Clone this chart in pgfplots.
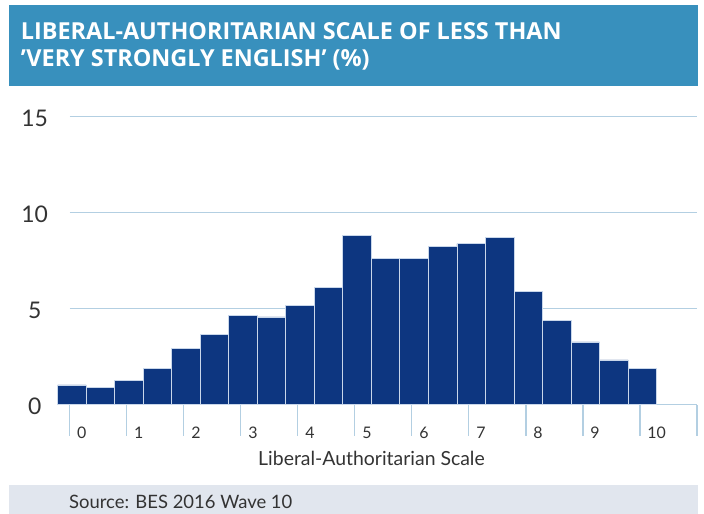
\documentclass[border=0pt]{standalone}
\usepackage{pgfplots}
\pgfplotsset{compat=1.18}
\usepackage{fontspec}
\setmainfont{Lato}
\newfontfamily\titlefont{Open Sans}
\definecolor{titleblue}{HTML}{3890BD}
\definecolor{barblue}{HTML}{0D3680}
\definecolor{gridblue}{HTML}{B3CFE2}
\definecolor{srcgray}{HTML}{E1E6EE}
\definecolor{txt}{HTML}{333333}
\definecolor{baredge}{HTML}{C9D7EA}

\begin{document}
\begin{tikzpicture}
\useasboundingbox (0bp,0bp) rectangle (704bp,514bp);
\fill[titleblue] (9bp,428bp) rectangle (698bp,509bp);
\node[anchor=base west, text=white, font=\titlefont\fontsize{23.5}{26}\selectfont\bfseries, inner sep=0] at (20.7bp,474bp) {LIBERAL-AUTHORITARIAN SCALE OF LESS THAN};
\node[anchor=base west, text=white, font=\titlefont\fontsize{23.5}{26}\selectfont\bfseries, inner sep=0] at (20.7bp,447.3bp) {’VERY STRONGLY ENGLISH’ (\%)};
\fill[srcgray] (9bp,0bp) rectangle (698bp,29bp);
\node[anchor=base west, text=txt, font=\fontsize{18.5}{20}\selectfont, inner sep=0] at (69bp,6bp) {Source: BES 2016 Wave 10};
\begin{axis}[
  at={(69.7bp,109.3bp)}, anchor=south west,
  scale only axis, width=627.3bp, height=288bp,
  xmin=0, xmax=11, ymin=0, ymax=15,
  clip=false,
  axis x line*=bottom, axis y line*=left,
  y axis line style={draw=none},
  x axis line style={draw=gridblue, line width=1.5bp},
  xtick={0,1,2,3,4,5,6,7,8,9,10,11},
  xticklabels={0,1,2,3,4,5,6,7,8,9,10,{}},
  ytick={0,5,10,15},
  yticklabels={0,5,10,15},
  tick align=outside,
  major tick length=31bp,
  xtick style={draw=gridblue, line width=1.2bp},
  ytick style={draw=none},
  ymajorgrids,
  grid style={draw=gridblue, line width=1.5bp},
  xticklabel style={anchor=north west, xshift=4bp, yshift=12bp, font=\fontsize{16}{18}\selectfont, text=txt},
  yticklabel style={anchor=center, xshift=-4bp, yshift=-2bp, font=\fontsize{23}{26}\selectfont, text=txt},
]
\addplot[ybar, bar width=0.5, bar shift=0.04, fill=barblue, draw=baredge, line width=0.8bp] coordinates {
(0,1.03) (0.5,0.89) (1,1.27) (1.5,1.88) (2,2.95) (2.5,3.68) (3,4.67)
(3.5,4.57) (4,5.18) (4.5,6.09) (5,8.80) (5.5,7.64) (6,7.60) (6.5,8.23)
(7,8.39) (7.5,8.73) (8,5.92) (8.5,4.41) (9,3.27) (9.5,2.33) (10,1.88)
};
\end{axis}
\node[anchor=base, text=txt, font=\fontsize{19.5}{21}\selectfont, inner sep=0] at (371.5bp,48bp) {Liberal-Authoritarian Scale};
\end{tikzpicture}
\end{document}
